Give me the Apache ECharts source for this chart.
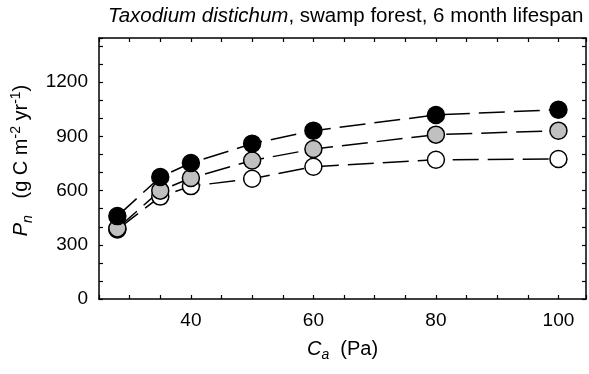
<!DOCTYPE html>
<html>
<head>
<meta charset="utf-8">
<script src="https://cdn.jsdelivr.net/npm/echarts@6/dist/echarts.min.js"></script>
<style>
  html, body { margin: 0; padding: 0; background: #fff; }
  #chart { width: 589px; height: 374px; }
</style>
</head>
<body>
<div id="chart"></div>
<script>
// Ambient CO2 partial pressure (Pa)
const caPa = [28, 35, 40, 50, 60, 80, 100];
// Net primary production (g C m-2 yr-1), three scenarios
const pnBlack = [459, 675, 753, 860, 932, 1019, 1048];
const pnGray = [391, 600, 670, 767, 830, 910, 932];
const pnWhite = [385, 567, 625, 666, 732, 771, 775];
// Labelled ticks
const xTickLabels = [40, 60, 80, 100];
const yTickLabels = [0, 300, 600, 900, 1200];

const FONT = 'Liberation Sans, Arial, sans-serif';
const chart = echarts.init(document.getElementById('chart'));

const pairs = (ys) => caPa.map((x, i) => [x, ys[i]]);

// Sub/superscript rich styles
const rich = {
  i: { fontFamily: FONT, fontSize: 20, fontStyle: 'italic', color: '#000', lineHeight: 26 },
  n: { fontFamily: FONT, fontSize: 20, color: '#000', lineHeight: 26 },
  sub: { fontFamily: FONT, fontSize: 14, fontStyle: 'italic', color: '#000', lineHeight: 14, verticalAlign: 'bottom' },
  sup: { fontFamily: FONT, fontSize: 14, color: '#000', lineHeight: 14, verticalAlign: 'top' },
};

const axisLine = { show: true, onZero: false, lineStyle: { color: '#000', width: 1.5 } };
const axisTick = { show: true, inside: true, length: 4, lineStyle: { color: '#000', width: 1.2 } };

function seriesOf(name, ys, fill) {
  return {
    name,
    type: 'line',
    data: pairs(ys),
    symbol: 'circle',
    symbolSize: 17,
    itemStyle: { color: fill, borderColor: '#000', borderWidth: 1.5 },
    lineStyle: { color: '#000', width: 1.5, type: [26, 9] },
    silent: true,
  };
}

const option = {
  backgroundColor: '#fff',
  animation: false,
  title: {
    text: '{i|Taxodium distichum}{n|, swamp forest, 6 month lifespan}',
    left: 103,
    top: 1,
    textStyle: {
      rich: {
        i: { fontFamily: FONT, fontSize: 20.5, fontStyle: 'italic', fontWeight: 'normal', color: '#000' },
        n: { fontFamily: FONT, fontSize: 20.5, fontWeight: 'normal', color: '#000' },
      },
    },
  },
  grid: { left: 99, right: 2, top: 38, bottom: 75 },
  xAxis: [
    {
      type: 'value',
      position: 'bottom',
      min: 25,
      max: 104.5,
      interval: 5,
      axisLine,
      axisTick,
      splitLine: { show: false },
      axisLabel: {
        color: '#000',
        fontFamily: FONT,
        fontSize: 19,
        margin: 12,
        formatter: (v) => (xTickLabels.includes(v) ? String(v) : ''),
      },
      name: '{i|C}{sub|a}{n|  (Pa)}',
      nameLocation: 'middle',
      nameGap: 37,
      nameTextStyle: { rich },
    },
    {
      type: 'value',
      position: 'top',
      min: 25,
      max: 104.5,
      interval: 5,
      axisLine,
      axisTick,
      splitLine: { show: false },
      axisLabel: { show: false },
    },
  ],
  yAxis: [
    {
      type: 'value',
      position: 'left',
      min: 0,
      max: 1445,
      interval: 100,
      axisLine,
      axisTick,
      splitLine: { show: false },
      axisLabel: {
        color: '#000',
        fontFamily: FONT,
        fontSize: 19,
        margin: 11,
        formatter: (v) => (yTickLabels.includes(v) ? String(v) : ''),
      },
      name: '{i|P}{sub|n}{n|   (g C m}{sup|-2}{n| yr}{sup|-1}{n|)}',
      nameLocation: 'middle',
      nameRotate: 90,
      nameGap: 58,
      nameTextStyle: { rich, padding: [0, 0, 0, 16] },
    },
    {
      type: 'value',
      position: 'right',
      min: 0,
      max: 1445,
      interval: 100,
      axisLine,
      axisTick,
      splitLine: { show: false },
      axisLabel: { show: false },
    },
  ],
  series: [
    seriesOf('white', pnWhite, '#ffffff'),
    seriesOf('gray', pnGray, '#c0c0c0'),
    seriesOf('black', pnBlack, '#000000'),
  ],
};

chart.setOption(option);
</script>
</body>
</html>
